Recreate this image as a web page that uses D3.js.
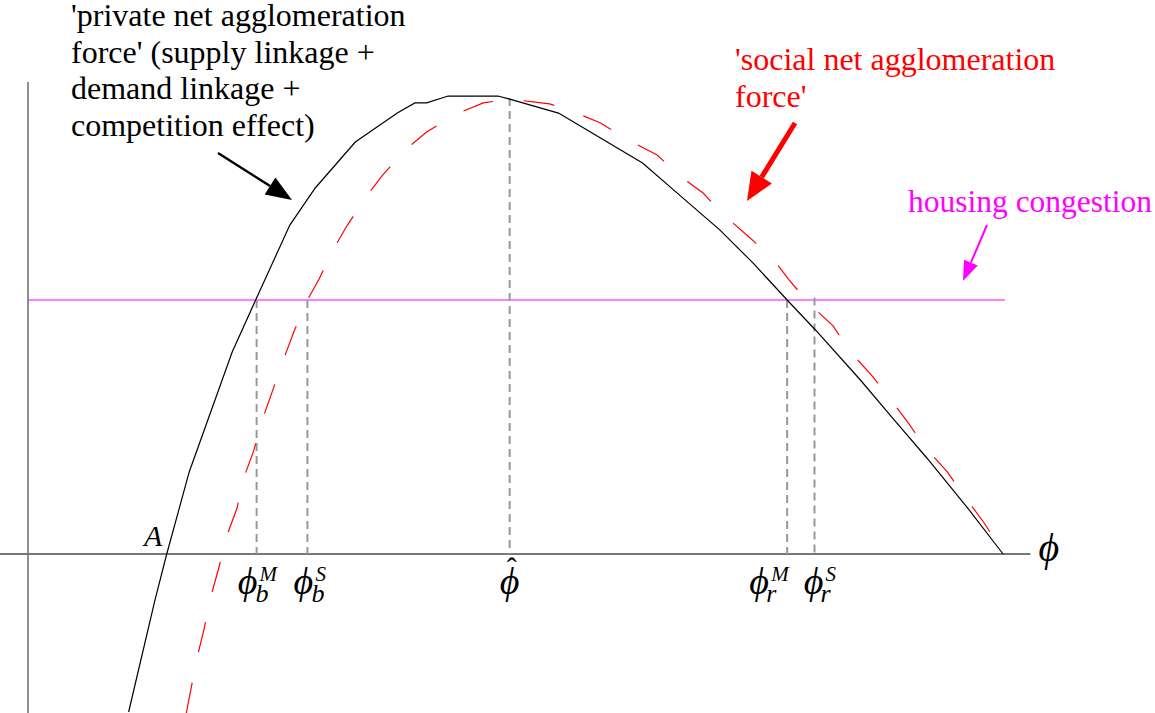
<!DOCTYPE html>
<html>
<head>
<meta charset="utf-8">
<script src="https://cdn.jsdelivr.net/npm/d3@7"></script>
<style>
  body { margin: 0; background: #fff; }
  text { font-family: "Liberation Serif", "Times New Roman", serif; }
</style>
</head>
<body>
<div id="chart"></div>
<script>
// phi (trade freeness) on x, net force on y; housing congestion level = 1
let privateX = [0.103, 0.130, 0.142, 0.165, 0.209, 0.233, 0.268, 0.294, 0.335, 0.378, 0.396, 0.408, 0.430, 0.481, 0.493, 0.543, 0.586, 0.629, 0.669, 0.708, 0.742, 0.777, 0.806, 0.852, 0.885, 0.920, 0.961, 0.998]
let privateY = [-0.622, -0.181, 0, 0.323, 0.795, 1.000, 1.295, 1.441, 1.622, 1.736, 1.776, 1.776, 1.803, 1.803, 1.791, 1.736, 1.638, 1.539, 1.406, 1.276, 1.146, 1.000, 0.882, 0.685, 0.535, 0.378, 0.185, 0]

let socialX = [0.162, 0.173, 0.180, 0.187, 0.195, 0.203, 0.214, 0.220, 0.231, 0.239, 0.251, 0.261, 0.272, 0.286, 0.298, 0.312, 0.327, 0.346, 0.363, 0.386, 0.408, 0.438, 0.466, 0.493, 0.517, 0.534, 0.559, 0.586, 0.614, 0.644, 0.667, 0.691, 0.712, 0.738, 0.762, 0.779, 0.800, 0.824, 0.841, 0.864, 0.881, 0.901, 0.918, 0.941, 0.959, 0.978, 0.999]
let socialY = [-0.626, -0.409, -0.299, -0.169, -0.059, 0.067, 0.181, 0.291, 0.406, 0.520, 0.650, 0.760, 0.874, 1.000, 1.083, 1.197, 1.295, 1.406, 1.492, 1.591, 1.661, 1.732, 1.776, 1.791, 1.780, 1.772, 1.740, 1.697, 1.630, 1.571, 1.488, 1.421, 1.335, 1.248, 1.165, 1.079, 0.984, 0.898, 0.799, 0.701, 0.618, 0.516, 0.421, 0.323, 0.224, 0.126, 0]

let congestion = 1
let congestionRange = [0, 1]

// critical points on the phi axis and the height the guide line reaches
let markNames = ["bM", "bS", "hat", "rM", "rS"]
let markX = [0.234, 0.286, 0.493, 0.777, 0.805]
let markTop = [1, 1, 1.795, 1, 1.01]
let markSub = ["b", "b", "", "r", "r"]
let markSup = ["M", "S", "", "M", "S"]

let width = 1155, height = 713

let xScale = d3.scaleLinear().domain([0, 1]).range([28, 1005])
let yScale = d3.scaleLinear().domain([0, 1]).range([554, 300])

// label shift (px) of each phi symbol from its guide line
let labelShift = [-9, -4, 0, -28, -1]

let svg = d3.select("#chart").append("svg")
    .attr("width", width)
    .attr("height", height)

let line = d3.line()
    .x(d => xScale(d[0]))
    .y(d => yScale(d[1]))

// axes (plain lines, no ticks)
svg.append("line")
  .attr("x1", xScale(0)).attr("x2", xScale(0))
  .attr("y1", yScale(1.858)).attr("y2", yScale(-0.63))
  .attr("stroke", "#555").attr("stroke-width", 1.3)

svg.append("line")
  .attr("x1", xScale(-0.029)).attr("x2", xScale(1.026))
  .attr("y1", yScale(0)).attr("y2", yScale(0))
  .attr("stroke", "#777").attr("stroke-width", 2)

// housing congestion
svg.append("line")
  .attr("x1", xScale(congestionRange[0])).attr("x2", xScale(congestionRange[1]))
  .attr("y1", yScale(congestion)).attr("y2", yScale(congestion))
  .attr("stroke", "#ff00ff").attr("stroke-width", 1.2)

// vertical guides
svg.append("g").selectAll("line")
  .data(markX)
  .enter().append("line")
  .attr("x1", d => xScale(d)).attr("x2", d => xScale(d))
  .attr("y1", (d, i) => yScale(markTop[i])).attr("y2", yScale(0))
  .attr("stroke", "#999").attr("stroke-width", 2)
  .attr("stroke-dasharray", "8,5")

// curves
svg.append("path")
  .datum(d3.zip(socialX, socialY))
  .attr("d", line)
  .attr("fill", "none")
  .attr("stroke", "#ff0000").attr("stroke-width", 1.2)
  .attr("stroke-dasharray", "31,31")

svg.append("path")
  .datum(d3.zip(privateX, privateY))
  .attr("d", line)
  .attr("fill", "none")
  .attr("stroke", "#000").attr("stroke-width", 1.2)

// arrows
function arrow(x1, y1, x2, y2, color, w, headLen, headW) {
  let a = Math.atan2(y2 - y1, x2 - x1)
  let bx = x2 - headLen * Math.cos(a), by = y2 - headLen * Math.sin(a)
  let px = -Math.sin(a) * headW / 2, py = Math.cos(a) * headW / 2
  svg.append("line")
    .attr("x1", x1).attr("y1", y1).attr("x2", bx).attr("y2", by)
    .attr("stroke", color).attr("stroke-width", w)
  svg.append("path")
    .attr("d", `M${x2},${y2}L${bx + px},${by + py}L${bx - px},${by - py}Z`)
    .attr("fill", color)
}
arrow(218, 153, 292, 200, "#000", 2.5, 26, 20)
arrow(795, 123, 747, 201, "#ff0000", 5, 28, 24)
arrow(987, 225, 963, 281, "#ff00ff", 2, 20, 15)

// text labels
let privateLines = ["'private net agglomeration", "force' (supply linkage +", "demand linkage +", "competition effect)"]
svg.append("g").selectAll("text")
  .data(privateLines)
  .enter().append("text")
  .attr("x", 71).attr("y", (d, i) => 26 + i * 36.5)
  .attr("font-size", 32)
  .text(d => d)

let socialLines = ["'social net agglomeration", "force'"]
svg.append("g").selectAll("text")
  .data(socialLines)
  .enter().append("text")
  .attr("x", 735).attr("y", (d, i) => 70 + i * 37)
  .attr("font-size", 32).attr("fill", "#ff0000")
  .text(d => d)

svg.append("text")
  .attr("x", 908).attr("y", 212)
  .attr("font-size", 31.5).attr("fill", "#ff00ff")
  .text("housing congestion")

svg.append("text")
  .attr("x", 144).attr("y", 546)
  .attr("font-size", 30).attr("font-style", "italic")
  .text("A")

// phi labels
let phi = "\u03D5"
let marks = svg.append("g").selectAll("g")
  .data(markX)
  .enter().append("g")
  .attr("transform", (d, i) => "translate(" + (xScale(d) + labelShift[i]) + ",0)")

marks.append("text")
  .attr("y", 594)
  .attr("text-anchor", "middle")
  .attr("font-size", 38).attr("font-style", "italic")
  .text(phi)

marks.append("text")
  .attr("x", 12).attr("y", 581)
  .attr("font-size", 21).attr("font-style", "italic")
  .text((d, i) => markSup[i])

marks.append("text")
  .attr("x", (d, i) => markSub[i] == "b" ? 8 : 7).attr("y", 602)
  .attr("font-size", 26).attr("font-style", "italic")
  .text((d, i) => markSub[i])

marks.filter((d, i) => markNames[i] == "hat")
  .append("text")
  .attr("x", 2).attr("y", 578)
  .attr("text-anchor", "middle")
  .attr("font-size", 30)
  .text("\u02C6")

svg.append("text")
  .attr("x", xScale(1.045)).attr("y", 561)
  .attr("text-anchor", "middle")
  .attr("font-size", 40).attr("font-style", "italic")
  .text(phi)
</script>
</body>
</html>
